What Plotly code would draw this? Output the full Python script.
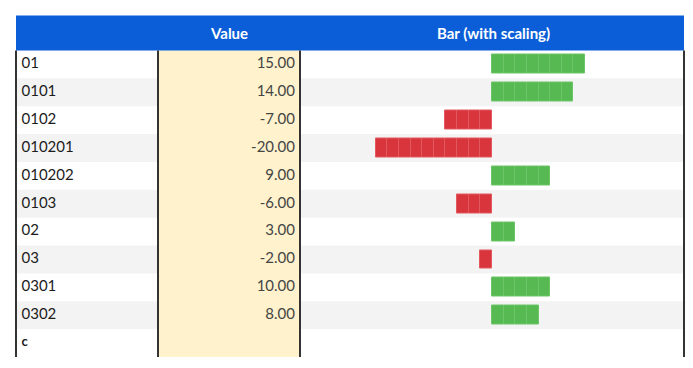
import math
import plotly.graph_objects as go

# ---- data ----
labels = ["01", "0101", "0102", "010201", "010202", "0103", "02", "03", "0301", "0302", "c"]
values = [15, 14, -7, -20, 9, -6, 3, -2, 10, 8, None]
header_value = "Value"
header_bar = "Bar (with scaling)"
segment_unit = 2  # one bar block per 2 units

# ---- layout constants (pixels) ----
W, H = 693, 368
TBL_L, TBL_R = 16, 684
HDR_T, HDR_B = 15.5, 50.5
BODY_B = 357
VAL_L, VAL_R = 158, 300
BAR_L = 300
n = len(labels)

def py(p):  # pixel y -> paper y
    return 1 - p / H

def px(p):
    return p / W

fig = go.Figure()

# segments per row
counts = [0 if v is None else math.ceil(abs(v) / segment_unit) for v in values]
maxc = max(counts)
GREEN, GREEN_L = "#56b951", "#6cc567"
RED, RED_L = "#d8353c", "#e2585e"
for k in range(maxc):
    xs, cols, lcols = [], [], []
    for v, c in zip(values, counts):
        if v is not None and c > k:
            xs.append(segment_unit if v > 0 else -segment_unit)
            cols.append(GREEN if v > 0 else RED)
            lcols.append(GREEN_L if v > 0 else RED_L)
        else:
            xs.append(None)
            cols.append(GREEN)
            lcols.append(GREEN_L)
    fig.add_trace(go.Bar(
        x=xs, y=labels, orientation="h", xaxis="x2", yaxis="y",
        width=0.68, marker=dict(color=cols, line=dict(color=lcols, width=1)),
        hoverinfo="skip", showlegend=False))

# labels
fig.add_trace(go.Scatter(
    x=[21.5] * (n - 1), y=labels[:-1], mode="text", text=labels[:-1],
    textposition="middle right", xaxis="x", yaxis="y",
    textfont=dict(family="Lato", size=15, color="#1c1c1c"),
    hoverinfo="skip", showlegend=False))
fig.add_trace(go.Scatter(
    x=[21.5], y=[labels[-1]], mode="text", text=["<b>" + labels[-1] + "</b>"],
    textposition="middle right", xaxis="x", yaxis="y",
    textfont=dict(family="Lato", size=13, color="#1c1c1c"),
    hoverinfo="skip", showlegend=False))
# values
vy = [l for l, v in zip(labels, values) if v is not None]
vt = [f"{v:.2f}" for v in values if v is not None]
fig.add_trace(go.Scatter(
    x=[295] * len(vy), y=vy, mode="text", text=vt,
    textposition="middle left", xaxis="x", yaxis="y",
    textfont=dict(family="Lato", size=15, color="#454545"),
    hoverinfo="skip", showlegend=False))

shapes = []
# alternating row backgrounds
for i in range(n):
    if i % 2 == 1:
        shapes.append(dict(type="rect", xref="paper", yref="y",
                           x0=px(TBL_L), x1=px(TBL_R), y0=i - 0.5, y1=i + 0.5,
                           fillcolor="#f3f3f3", line=dict(width=0), layer="below"))
# value column
shapes.append(dict(type="rect", xref="paper", yref="paper",
                   x0=px(VAL_L), x1=px(VAL_R), y0=py(BODY_B), y1=py(HDR_B),
                   fillcolor="#fff2cc", line=dict(width=0), layer="below"))
# header
shapes.append(dict(type="rect", xref="paper", yref="paper",
                   x0=px(TBL_L), x1=px(TBL_R), y0=py(HDR_B), y1=py(HDR_T),
                   fillcolor="#0b5ed7", line=dict(width=0), layer="below"))
# borders
for xb in [TBL_L, VAL_L, VAL_R, TBL_R]:
    shapes.append(dict(type="line", xref="paper", yref="paper",
                       x0=px(xb), x1=px(xb), y0=py(BODY_B), y1=py(HDR_B),
                       line=dict(color="#333333", width=2), layer="above"))

annotations = [
    dict(x=px((VAL_L + VAL_R) / 2), y=py((HDR_T + HDR_B) / 2), xref="paper", yref="paper",
         xanchor="center", yanchor="middle",
         text="<b>" + header_value + "</b>", showarrow=False,
         font=dict(family="Lato", size=15, color="white")),
    dict(x=px(493), y=py((HDR_T + HDR_B) / 2), xref="paper", yref="paper",
         xanchor="center", yanchor="middle",
         text="<b>" + header_bar + "</b>", showarrow=False,
         font=dict(family="Lato", size=15, color="white")),
]

fig.update_layout(
    width=W, height=H, margin=dict(l=0, r=0, t=0, b=0),
    paper_bgcolor="white", plot_bgcolor="rgba(0,0,0,0)",
    barmode="relative", bargap=0,
    shapes=shapes, annotations=annotations,
    xaxis=dict(domain=[0, 1], range=[0, W], visible=False, fixedrange=True),
    xaxis2=dict(domain=[px(BAR_L), px(TBL_R)], range=[-33, 33], anchor="y",
                visible=False, fixedrange=True),
    yaxis=dict(domain=[py(BODY_B), py(HDR_B)], type="category",
               categoryorder="array", categoryarray=labels,
               range=[n - 0.5, -0.5], visible=False, fixedrange=True),
)
fig.write_html("out.html", config={"displayModeBar": False},
               post_script="document.body.style.margin='0';document.body.style.overflow='hidden';")
